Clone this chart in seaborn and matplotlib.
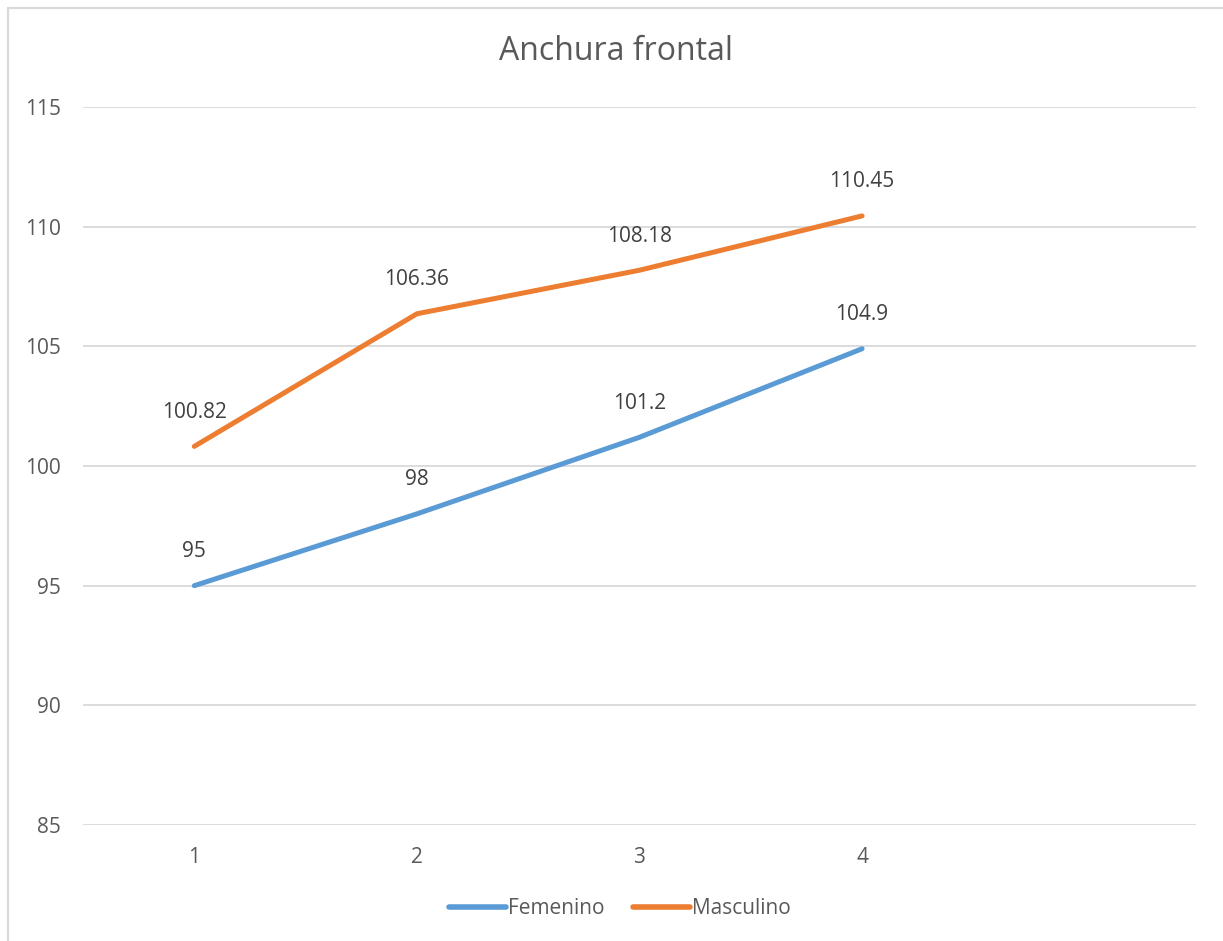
import matplotlib
matplotlib.use("Agg")
import matplotlib.pyplot as plt
from matplotlib.lines import Line2D
import seaborn as sns
import pandas as pd

# Data
categories = [1, 2, 3, 4]
femenino = [95, 98, 101.2, 104.9]
masculino = [100.82, 106.36, 108.18, 110.45]
series_names = ["Femenino", "Masculino"]
y_ticks = [85, 90, 95, 100, 105, 110, 115]

colors = {"Femenino": "#5b9bd5", "Masculino": "#ed7d31"}
tick_color = "#595959"
label_color = "#404040"
grid_color = "#d9d9d9"

sns.set_theme(style="white")
plt.rcParams["font.family"] = ["Open Sans", "DejaVu Sans"]

df = pd.DataFrame({
    "x": categories * 2,
    "value": femenino + masculino,
    "serie": [series_names[0]] * len(categories) + [series_names[1]] * len(categories),
})

fig = plt.figure(figsize=(12.23, 9.41), dpi=100)
ax = fig.add_axes([83 / 1223, 1 - 825 / 941, (1196 - 83) / 1223, (825 - 107) / 941])

sns.lineplot(data=df, x="x", y="value", hue="serie", palette=colors,
             linewidth=3.6, ax=ax, legend=False, solid_capstyle="round")

# Value labels above each point
for name, vals in zip(series_names, [femenino, masculino]):
    for xv, yv in zip(categories, vals):
        ax.annotate(f"{yv:g}", (xv, yv), xytext=(0, 24.5), textcoords="offset points",
                    ha="center", va="center", fontsize=15, color=label_color)

ax.set_xlim(0.5, 5.5)
ax.set_ylim(85, 115)
ax.set_yticks(y_ticks)
ax.set_xticks(categories)
ax.set_xlabel("")
ax.set_ylabel("")
ax.grid(axis="y", color=grid_color, linewidth=1.3)
ax.grid(axis="x", visible=False)
for s in ax.spines.values():
    s.set_visible(False)
ax.tick_params(axis="both", length=0, labelsize=15, labelcolor=tick_color)
ax.tick_params(axis="y", pad=16)
ax.tick_params(axis="x", pad=16)

fig.text(616 / 1223, 1 - 52 / 941, "Anchura frontal", ha="center", va="center",
         fontsize=23, color=tick_color)

handles = [Line2D([0], [0], color=colors[n], linewidth=4, solid_capstyle="round") for n in series_names]
fig.legend(handles, series_names, loc="center", bbox_to_anchor=(620 / 1223, 1 - 909 / 941),
           ncol=2, frameon=False, fontsize=15, labelcolor=tick_color,
           handlelength=2.7, handletextpad=0.1, columnspacing=1.4)

# Outer chart border (left and top edges visible)
fig.add_artist(Line2D([7.5 / 1223, 7.5 / 1223], [0, 1 - 8 / 941], transform=fig.transFigure,
                      color=grid_color, linewidth=1.6))
fig.add_artist(Line2D([7.5 / 1223, 1], [1 - 8 / 941, 1 - 8 / 941], transform=fig.transFigure,
                      color=grid_color, linewidth=1.6))

fig.savefig("out.png", dpi=100, facecolor="white")
